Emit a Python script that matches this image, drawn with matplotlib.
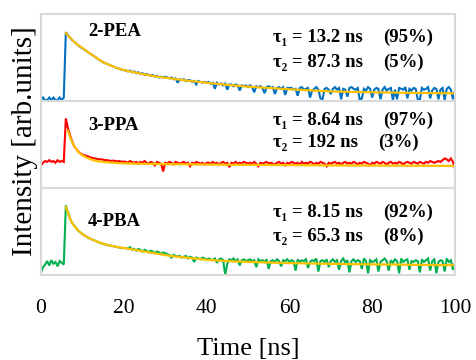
import numpy as np
import matplotlib
matplotlib.use("Agg")
import matplotlib.pyplot as plt

# ---------------- data (intensity in % of panel height) ----------------
t_start, t_step = 0.0, 0.5   # sampling of the measured traces (ns)

pea_decay = [
    1, 4, 1, 1, 4, 1, 4, 1, 1, 4, 1, 4,
    79, 76, 73, 70, 68, 66, 64, 62, 60.5, 59, 57.5, 55.5, 54, 52.5, 51, 49, 47.5, 46, 44.5,
    43.5, 42.5, 41.5, 40.5, 39.5, 38.5, 37.5, 37, 36, 35.5,
    35, 34, 35, 33, 34, 32, 33, 31, 32, 30, 31, 30, 29, 30, 28, 29, 27, 28, 27, 28,
    27, 26, 27, 25, 26, 21, 25, 24, 25, 23, 24, 24, 22, 23, 19, 23, 22, 21, 22, 21,
    22, 20, 21, 14, 21, 19, 20, 18, 20, 13, 19, 19, 17, 19, 18, 12, 18, 17, 18, 16,
    18, 16, 10, 17, 16, 17, 15, 9, 16, 17, 15, 16, 8, 15, 16, 14, 16, 7, 15, 15,
    15, 13, 14, 6, 15, 16, 13, 14, 15, 4, 12, 14, 16, 13, 3, 2, 14, 15, 13, 8,
    14, 16, 13, 15, 2, 14, 13, 5, 15, 16, 14, 13, 15, 1, 3, 14, 12, 16, 14, 4,
    13, 15, 14, 2, 13, 16, 12, 14, 15, 1, 13, 2, 15, 14, 13, 16, 3, 14, 12, 15,
    14, 2, 1, 15, 13, 14, 16, 3, 12, 15, 14, 2, 13, 15, 1, 14, 16, 13, 2, 12,
]
ppa_decay = [
    26, 29, 31, 30, 32, 30, 31, 29, 32, 30, 31, 30,
    80, 69, 61, 54, 48, 45, 42, 40, 38.5, 37.5, 37, 36, 35, 34.5, 34, 33.5, 33, 33, 32.5,
    32, 32, 31.5, 31, 31.5, 31, 30.5, 31, 30, 30.5,
    30, 29, 31, 30, 29, 30, 28, 30, 29, 31, 29, 28, 30, 29, 26, 30, 29, 28, 19, 29,
    28, 30, 29, 27, 30, 29, 28, 29, 30, 28, 29, 25, 29, 28, 30, 29, 28, 29, 27, 29,
    29, 28, 30, 28, 29, 27, 29, 30, 28, 29, 24, 29, 28, 30, 28, 29, 28, 30, 29, 28,
    29, 28, 30, 28, 25, 29, 28, 29, 30, 28, 29, 28, 27, 29, 30, 28, 29, 26, 29, 28,
    30, 29, 28, 29, 27, 30, 28, 29, 28, 30, 29, 27, 29, 28, 30, 29, 28, 25, 29, 28,
    29, 30, 28, 29, 27, 29, 30, 28, 29, 28, 30, 29, 27, 29, 28, 30, 29, 28, 26, 29,
    28, 30, 29, 28, 30, 29, 27, 29, 30, 28, 29, 28, 30, 29, 27, 29, 30, 29, 28, 30,
    29, 28, 30, 29, 28, 30, 29, 31, 30, 29, 30, 31, 30, 32, 34, 33, 31, 34, 30, 22,
]
pba_decay = [
    3, 9, 12, 16, 11, 17, 13, 15, 10, 16, 14, 12,
    80, 72, 65, 60, 57, 54, 51, 49, 47, 45.5, 44, 42.5, 41.5, 40.5, 39.5, 38.5, 37.5, 36.5, 36,
    35, 34.5, 34, 33.5, 33, 32.5, 32, 31.5, 31, 31,
    31, 30, 32, 29, 30, 28, 30, 29, 27, 29, 28, 26, 28, 27, 25, 27, 26, 24, 26, 25,
    24, 23, 20, 23, 22, 21, 22, 20, 21, 22, 19, 21, 20, 15, 20, 19, 18, 20, 19, 18,
    19, 18, 17, 19, 14, 18, 19, 17, 0, 13, 18, 17, 19, 16, 18, 11, 17, 18, 16, 17,
    18, 16, 17, 9, 18, 16, 17, 15, 18, 7, 16, 17, 15, 18, 16, 10, 17, 16, 18, 15,
    17, 16, 5, 18, 15, 17, 16, 18, 8, 15, 17, 16, 19, 4, 16, 17, 15, 18, 9, 16,
    18, 15, 17, 6, 16, 19, 14, 17, 3, 16, 18, 15, 17, 16, 7, 19, 16, 2, 17, 15,
    16, 18, 4, 15, 17, 19, 16, 5, 17, 14, 18, 16, 2, 19, 15, 17, 18, 6, 16, 15,
    17, 16, 3, 18, 15, 17, 19, 5, 16, 18, 2, 15, 17, 16, 4, 19, 15, 17, 6, 14,
]

# fitted curves
pea_fit_t = [6, 7, 8, 9, 10, 11, 12, 13, 14, 15, 16, 18, 20, 22, 25, 28, 32, 36, 40,
             45, 50, 55, 60, 65, 70, 80, 90, 100]
pea_fit_y = [78, 73, 68, 64, 61, 57.5, 54, 51, 47.5, 44.5, 42.5, 38.5, 35.5, 33.5, 30.5,
             28, 25.5, 23, 21, 18.5, 16.5, 15, 13.5, 12.2, 11, 10, 9.3, 8.8]
ppa_fit_t = [6.5, 7, 7.5, 8, 8.5, 9, 10, 11, 12, 13, 14, 16, 18, 20, 25, 30, 40, 50, 60,
             70, 80, 90, 100]
ppa_fit_y = [66, 59, 53, 48.5, 44.5, 41.5, 37.5, 35, 33, 31.5, 30.5, 29.5, 28.8, 28.3,
             27.8, 27.5, 27, 26.6, 26.3, 26, 25.8, 25.6, 25.4]
pba_fit_t = [6, 7, 7.5, 8, 8.5, 9, 10, 11, 12, 13, 14, 15, 16, 18, 20, 22, 25, 28, 32,
             36, 40, 45, 50, 60, 70, 80, 90, 100]
pba_fit_y = [78, 65, 60, 56.5, 53.5, 51, 47, 44, 41.5, 39.5, 37.5, 36, 34.5, 32.5, 31,
             29.5, 27, 24.5, 21.5, 19.5, 17.5, 16, 15, 13.7, 12.8, 12.2, 11.7, 11.3]

samples = ["2-PEA", "3-PPA", "4-PBA"]
tau1 = ["13.2", "8.64", "8.15"]
tau2 = ["87.3", "192", "65.3"]
frac1 = ["95%", "97%", "92%"]
frac2 = ["5%", "3%", "8%"]

x_ticks = [0, 20, 40, 60, 80, 100]

# ---------------- styling ----------------
serif = ["Liberation Serif", "DejaVu Serif"]
plt.rcParams["font.family"] = serif
data_colors = ["#0070C0", "#FF0000", "#00B050"]
fit_color = "#FFC000"
frame_color = "#D9D9D9"

decays = [pea_decay, ppa_decay, pba_decay]
fits = [(pea_fit_t, pea_fit_y), (ppa_fit_t, ppa_fit_y), (pba_fit_t, pba_fit_y)]

# label positions (x in ns, y in axes fraction)
name_y = [0.80, 0.72, 0.61]
tau1_y = [0.73, 0.78, 0.72]
tau2_y = [0.44, 0.52, 0.44]
frac2_x = [82.6, 81.4, 82.6]
fs = 13.5

fig = plt.figure(figsize=(4.77, 3.60), dpi=100)
left, right = 41 / 477, 455 / 477
top, bottom = 1 - 14 / 360, 1 - 275 / 360
h = (top - bottom) / 3

for k in range(3):
    ax = fig.add_axes([left, top - (k + 1) * h, right - left, h])
    y = np.asarray(decays[k], dtype=float)
    t = t_start + t_step * np.arange(len(y))
    ax.plot(t, y, color=data_colors[k], lw=1.5, solid_joinstyle="miter")
    ax.plot(fits[k][0], fits[k][1], color=fit_color, lw=1.6)
    ax.set_xlim(0, 100)
    ax.set_ylim(0, 100)
    ax.set_yticks([])
    ax.set_xticks(x_ticks)
    ax.tick_params(axis="x", length=0, pad=17, labelsize=15.5)
    if k < 2:
        ax.tick_params(axis="x", labelbottom=False)
    for s in ax.spines.values():
        s.set_color(frame_color)
        s.set_linewidth(1.5)
    tr = ax.get_xaxis_transform()
    kw = dict(transform=tr, ha="left", va="center", fontsize=fs, fontweight="bold")
    ax.text(11.3, name_y[k], samples[k], **kw)
    ax.text(56.0, tau1_y[k], "τ₁ = " + tau1[k] + " ns", **kw)
    ax.text(56.0, tau2_y[k], "τ₂ = " + tau2[k] + " ns", **kw)
    ax.text(82.6, tau1_y[k], "(" + frac1[k] + ")", **kw)
    ax.text(frac2_x[k], tau2_y[k], "(" + frac2[k] + ")", **kw)

fig.text(25 / 477, 1 - 141 / 360, "Intensity [arb.units]", rotation=90,
         ha="center", va="center", fontsize=21)
fig.text((left + right) / 2, 1 - 349 / 360, "Time [ns]", ha="center", va="center",
         fontsize=19)

fig.savefig("out.png", dpi=100)
